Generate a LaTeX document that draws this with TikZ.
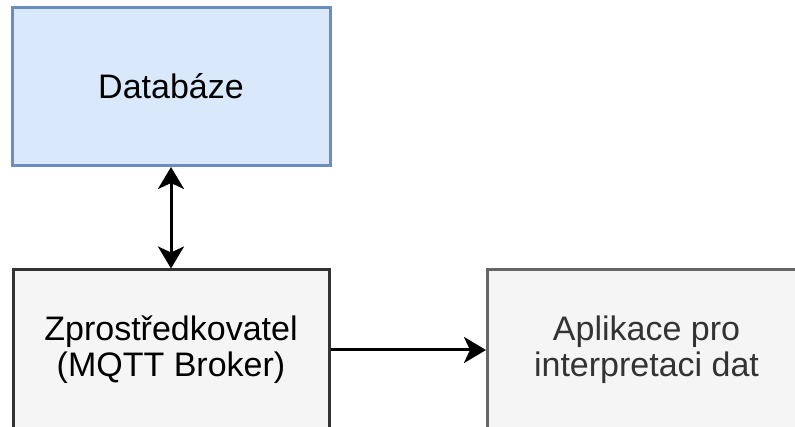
\documentclass[tikz,border=0pt]{standalone}
\usepackage{fontspec}
\setmainfont{Liberation Sans}
\usetikzlibrary{arrows.meta}

\definecolor{dbfill}{HTML}{DAE8FC}
\definecolor{dbline}{HTML}{6C8EBF}
\definecolor{grayfill}{HTML}{F5F5F5}
\definecolor{darkline}{HTML}{333333}
\definecolor{grayline}{HTML}{666666}
\definecolor{graytext}{HTML}{333333}

\begin{document}
\begin{tikzpicture}[x=1pt,y=-1pt]
        \tikzstyle{block}=[rectangle,line width=3pt,minimum width=318pt,minimum height=158pt,inner sep=0pt,align=center,font=\fontsize{34pt}{36pt}\selectfont]
        \tikzstyle{link}=[line width=3pt,black,-{Stealth[length=22pt,width=26pt,inset=6pt]}]
        \tikzstyle{dlink}=[link,{Stealth[length=22pt,width=26pt,inset=6pt]}-{Stealth[length=22pt,width=26pt,inset=6pt]}]
        \useasboundingbox (0,0) rectangle (795,427);

        \node[block,draw=dbline,fill=dbfill] (db) at (171,86.5) {Databáze};
        \node[block,draw=darkline,fill=grayfill,minimum height=160pt,minimum width=316pt] (broker) at (171,350) {Zprostředkovatel\\(MQTT Broker)};
        \node[block,draw=grayline,fill=grayfill,text=graytext,minimum height=160pt] (app) at (646.5,350) {Aplikace pro\\interpretaci dat};

        \draw[dlink] (db.south) -- (broker.north);
        \draw[link] (broker.east) -- (app.west);
    \end{tikzpicture}
\end{document}
